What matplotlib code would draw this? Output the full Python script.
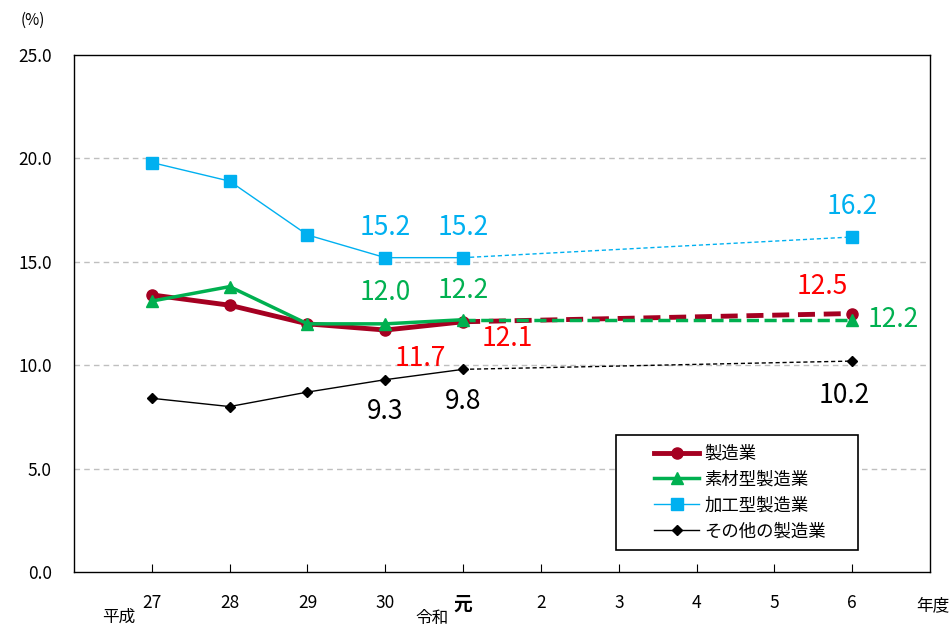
import matplotlib.pyplot as plt
from matplotlib.patches import Rectangle

plt.rcParams['font.family'] = ['Noto Sans CJK JP', 'DejaVu Sans']

years = ['27', '28', '29', '30', '元', '2', '3', '4', '5', '6']

# actual values (平成27 - 令和元) and forecast (令和6)
mfg = [13.4, 12.9, 12.0, 11.7, 12.1]
mfg_6 = 12.5
material = [13.1, 13.8, 12.0, 12.0, 12.2]
material_6 = 12.2
processing = [19.8, 18.9, 16.3, 15.2, 15.2]
processing_6 = 16.2
other = [8.4, 8.0, 8.7, 9.3, 9.8]
other_6 = 10.2

series = [
    ('製造業', mfg, mfg_6, '#A50021', 'o', 3.5, 8, (0, (3.5, 1.8))),
    ('素材型製造業', material, material_6, '#00B050', '^', 2.5, 8, (0, (3.5, 1.6))),
    ('加工型製造業', processing, processing_6, '#00B0F0', 's', 1.0, 8, (0, (3, 2))),
    ('その他の製造業', other, other_6, 'black', 'D', 1.0, 5.5, (0, (3, 2))),
]

fig = plt.figure(figsize=(9.52, 6.27), dpi=100)
ax = fig.add_axes([0.0777, 0.0877, 0.8993, 0.8246])

x_act = list(range(len(mfg)))
x_last = len(years) - 1
for name, vals, last, color, marker, lw, ms, dash in series:
    ax.plot(x_act, vals, color=color, lw=lw, marker=marker, ms=ms, label=name, zorder=3)
    ax.plot([x_act[-1], x_last], [vals[-1], last], color=color, lw=lw, ls=dash, zorder=2)
    ax.plot([x_last], [last], color=color, marker=marker, ms=ms, zorder=3)

fs = 19
# 加工型
ax.text(3, processing[3] + 0.8, f'{processing[3]:.1f}', color='#00B0F0', fontsize=fs, ha='center', va='bottom')
ax.text(4, processing[4] + 0.8, f'{processing[4]:.1f}', color='#00B0F0', fontsize=fs, ha='center', va='bottom')
ax.text(9, processing_6 + 0.8, f'{processing_6:.1f}', color='#00B0F0', fontsize=fs, ha='center', va='bottom')
# 素材型
ax.text(3, material[3] + 0.85, f'{material[3]:.1f}', color='#00B050', fontsize=fs, ha='center', va='bottom')
ax.text(4, material[4] + 0.75, f'{material[4]:.1f}', color='#00B050', fontsize=fs, ha='center', va='bottom')
ax.text(9.2, material_6, f'{material_6:.1f}', color='#00B050', fontsize=fs, ha='left', va='center')
# 製造業
ax.text(3.45, mfg[3] - 1.4, f'{mfg[3]:.1f}', color='red', fontsize=fs, ha='center', va='center')
ax.text(4.57, mfg[4] - 0.8, f'{mfg[4]:.1f}', color='red', fontsize=fs, ha='center', va='center')
ax.text(8.62, mfg_6 + 1.3, f'{mfg_6:.1f}', color='red', fontsize=fs, ha='center', va='center')
# その他
ax.text(3, other[3] - 1.55, f'{other[3]:.1f}', color='black', fontsize=fs, ha='center', va='center')
ax.text(4, other[4] - 1.55, f'{other[4]:.1f}', color='black', fontsize=fs, ha='center', va='center')
ax.text(8.9, other_6 - 1.65, f'{other_6:.1f}', color='black', fontsize=fs, ha='center', va='center')

ax.set_xlim(-1, len(years))
ax.set_ylim(0, 25)
ax.set_yticks([0, 5, 10, 15, 20, 25])
ax.set_yticklabels([f'{v:.1f}' for v in [0, 5, 10, 15, 20, 25]], fontsize=12.5)
ax.set_xticks(range(len(years)))
ax.set_xticklabels(years, fontsize=12.5)
ax.get_xticklabels()[4].set_fontweight('bold')
ax.get_xticklabels()[4].set_fontsize(13.5)
ax.tick_params(axis='x', direction='in', length=6, pad=16)
ax.tick_params(axis='y', length=0, pad=16)

for y in [5, 10, 15, 20]:
    ax.axhline(y, color='#BFBFBF', lw=1, ls=(0, (4, 3)), zorder=1)
for s in ax.spines.values():
    s.set_color('black')
    s.set_linewidth(1)

xax = ax.get_xaxis_transform()
ax.text(-0.42, -0.087, '平成', transform=xax, fontsize=12, ha='center', va='center')
ax.text(3.6, -0.089, '令和', transform=xax, fontsize=12, ha='center', va='center')
ax.text(10.04, -0.066, '年度', transform=xax, fontsize=12, ha='center', va='center')
fig.text(33 / 952, 1 - 20 / 627, '(%)', fontsize=11, ha='center', va='center')

# legend box drawn separately so the entries can sit with wide margins
ax.add_patch(Rectangle((0.633, 0.0426), 0.283, 0.2224, transform=ax.transAxes,
                       facecolor='white', edgecolor='black', lw=1.2, zorder=4))
leg = ax.legend(loc='center', bbox_to_anchor=(0.778, 0.154), fontsize=12.5, frameon=False,
                handlelength=2.6, labelspacing=0.45, borderaxespad=0, handletextpad=0.3)
leg.set_zorder(5)

fig.savefig('out.png', dpi=100)
